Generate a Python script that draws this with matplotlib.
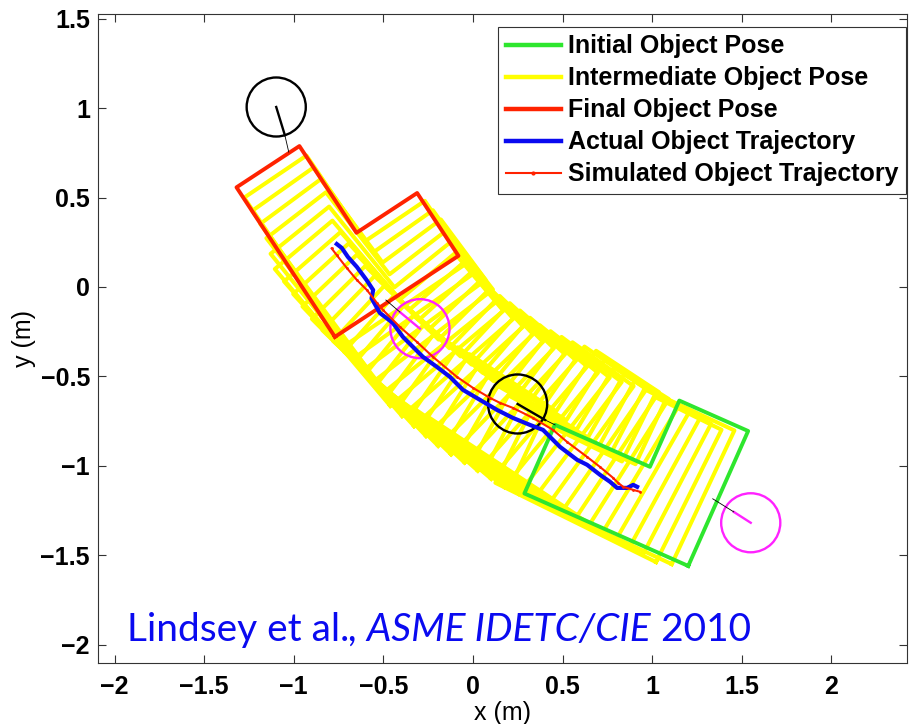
import numpy as np
import matplotlib
matplotlib.use("Agg")
import matplotlib.pyplot as plt
from matplotlib.patches import Circle

# L shaped object outline in its own frame (m)
obj_x = [0.0, 0.825, 0.825, 0.42, 0.42, 0.0, 0.0]
obj_y = [0.0, 0.0, 0.42, 0.42, 1.0, 1.0, 0.0]
obj_com = [0.29, 0.435]

# poses: centre of mass x, y (m) and heading (deg)
initial_pose = [0.921, -1.118, 66.1]
final_pose = [-0.767, 0.244, 33.3]
inter_x = [0.838, 0.760, 0.696, 0.631, 0.564, 0.498, 0.439, 0.380, 0.306, 0.231, 0.161, 0.091, 0.022, -0.041,
           -0.105, -0.169, -0.233, -0.295, -0.352, -0.408, -0.464, -0.520, -0.549, -0.578, -0.618, -0.669, -0.720]
inter_y = [-1.102, -1.085, -1.038, -0.990, -0.946, -0.902, -0.847, -0.795, -0.765, -0.735, -0.698, -0.659, -0.618,
           -0.569, -0.521, -0.473, -0.425, -0.375, -0.318, -0.261, -0.203, -0.145, -0.072, 0.003, 0.071, 0.132, 0.194]
inter_th = [64.9, 63.7, 62.5, 61.4, 60.2, 59.0, 57.8, 56.6, 55.4, 54.3, 53.1, 51.9, 50.7, 49.5,
            48.3, 47.2, 46.0, 44.8, 43.6, 42.4, 41.2, 40.1, 38.9, 37.7, 36.5, 35.3, 34.1]

# measured (actual) and simulated trajectories of the centre of mass
actual_x = [0.916, 0.894, 0.860, 0.804, 0.765, 0.709, 0.637, 0.581, 0.486, 0.430, 0.391, 0.318, 0.223, 0.134, 0.039,
            -0.056, -0.128, -0.201, -0.279, -0.335, -0.391, -0.447, -0.520, -0.566, -0.557, -0.594, -0.648, -0.698,
            -0.732, -0.760]
actual_y = [-1.117, -1.106, -1.123, -1.123, -1.089, -1.050, -0.994, -0.966, -0.894, -0.838, -0.799, -0.771, -0.732,
            -0.687, -0.631, -0.575, -0.503, -0.447, -0.391, -0.335, -0.279, -0.201, -0.145, -0.063, -0.017, 0.039,
            0.112, 0.168, 0.218, 0.240]
sim_x = [0.933, 0.894, 0.838, 0.810, 0.782, 0.709, 0.637, 0.525, 0.447, 0.335, 0.223, 0.151, 0.095, 0.000, -0.089,
         -0.223, -0.313, -0.408, -0.503, -0.536, -0.592, -0.648, -0.704, -0.761, -0.789]
sim_y = [-1.145, -1.134, -1.117, -1.095, -1.067, -1.006, -0.950, -0.866, -0.799, -0.732, -0.676, -0.648, -0.620,
         -0.564, -0.503, -0.391, -0.307, -0.223, -0.128, -0.089, -0.017, 0.039, 0.106, 0.179, 0.216]

# fingers: circle centre, end of the thick stroke, contact point
finger_x = [-1.098, -0.296, 0.249, 1.550]
finger_y = [1.006, -0.233, -0.654, -1.318]
stroke_x = [-1.050, -0.408, 0.402, 1.455]
stroke_y = [0.849, -0.140, -0.743, -1.257]
contact_x = [-1.028, -0.486, 0.458, 1.338]
contact_y = [0.754, -0.073, -0.771, -1.184]
finger_colors = ['black', '#ff22ff', 'black', '#ff22ff']
finger_r = 0.165

labels = ['Initial Object Pose', 'Intermediate Object Pose', 'Final Object Pose',
          'Actual Object Trajectory', 'Simulated Object Trajectory']


def PoseOutline(cx, cy, th_deg):
    th = np.deg2rad(th_deg)
    lx = np.array(obj_x) - obj_com[0]
    ly = np.array(obj_y) - obj_com[1]
    px = cx + lx*np.cos(th) - ly*np.sin(th)
    py = cy + lx*np.sin(th) + ly*np.cos(th)
    return px, py


plt.rcParams['font.family'] = ['Liberation Sans', 'DejaVu Sans']
plt.rcParams['font.weight'] = 'bold'

fig = plt.figure(figsize=(9.1, 7.24), dpi=100)
ax = fig.add_axes([0.108, 0.0847, 0.8887, 0.896])

yellow = '#ffff00'
green = '#2ee62e'
red = '#ff2200'
blue = '#0a0af0'

for i in range(len(inter_x)):
    px, py = PoseOutline(inter_x[i], inter_y[i], inter_th[i])
    h_yel, = ax.plot(px, py, color=yellow, lw=2.9)

px, py = PoseOutline(*initial_pose)
h_ini, = ax.plot(px, py, color=green, lw=2.8)
px, py = PoseOutline(*final_pose)
h_fin, = ax.plot(px, py, color=red, lw=2.8)

for i in range(len(finger_x)):
    ax.add_patch(Circle((finger_x[i], finger_y[i]), finger_r, fill=False, ec=finger_colors[i], lw=1.7, zorder=3))
    ax.plot([finger_x[i], stroke_x[i]], [finger_y[i], stroke_y[i]], color=finger_colors[i], lw=1.7, zorder=3)
    ax.plot([stroke_x[i], contact_x[i]], [stroke_y[i], contact_y[i]], color='black', lw=0.6, zorder=3)

h_act, = ax.plot(actual_x, actual_y, color=blue, lw=3.0, zorder=4)
h_sim, = ax.plot(sim_x, sim_y, color=red, lw=1.5, marker='.', markersize=2, zorder=5)

leg = ax.legend([h_ini, h_yel, h_fin, h_act, h_sim], labels, loc='upper right',
                bbox_to_anchor=(0.9988, 0.98), borderaxespad=0, fontsize=18, handlelength=2.2,
                handletextpad=0.3, labelspacing=0.32, borderpad=0.3, numpoints=1, fancybox=False,
                framealpha=1, edgecolor='#333333')
leg.get_frame().set_linewidth(0.8)
for h in leg.legend_handles[:4]:
    h.set_linewidth(3.2)
leg.legend_handles[4].set_markersize(4)

ax.set_xlim(-2.091, 2.422)
ax.set_ylim(-2.100, 1.526)
ax.set_xticks([-2, -1.5, -1, -0.5, 0, 0.5, 1, 1.5, 2])
ax.set_xticklabels(['\u22122', '\u22121.5', '\u22121', '\u22120.5', '0', '0.5', '1', '1.5', '2'])
ax.set_yticks([-2, -1.5, -1, -0.5, 0, 0.5, 1, 1.5])
ax.set_yticklabels(['\u22122', '\u22121.5', '\u22121', '\u22120.5', '0', '0.5', '1', '1.5'])
ax.tick_params(direction='in', length=5.5, width=0.8, top=True, right=True, labelsize=18, color='#333333')
ax.tick_params(axis='x', pad=9)
ax.tick_params(axis='y', pad=6)
for sp in ax.spines.values():
    sp.set_linewidth(0.8)
    sp.set_color('#333333')
ax.set_xlabel('x (m)', fontsize=18, labelpad=1)
ax.set_ylabel('y (m)', fontsize=18, labelpad=3)

# citation
t1 = ax.text(-1.93, -1.978, 'Lindsey et al.', color=blue, fontsize=28, family='Lato', fontweight='normal',
             va='baseline')
t2 = ax.annotate(', ASME IDETC/CIE', xy=(1, 0), xycoords=t1, va='bottom', color=blue, fontsize=28,
                 family='Lato', fontweight='normal', style='italic')
t3 = ax.annotate(' 2010', xy=(1, 0), xycoords=t2, va='bottom', color=blue, fontsize=28,
                 family='Lato', fontweight='normal')

fig.savefig('out.png', dpi=100)
